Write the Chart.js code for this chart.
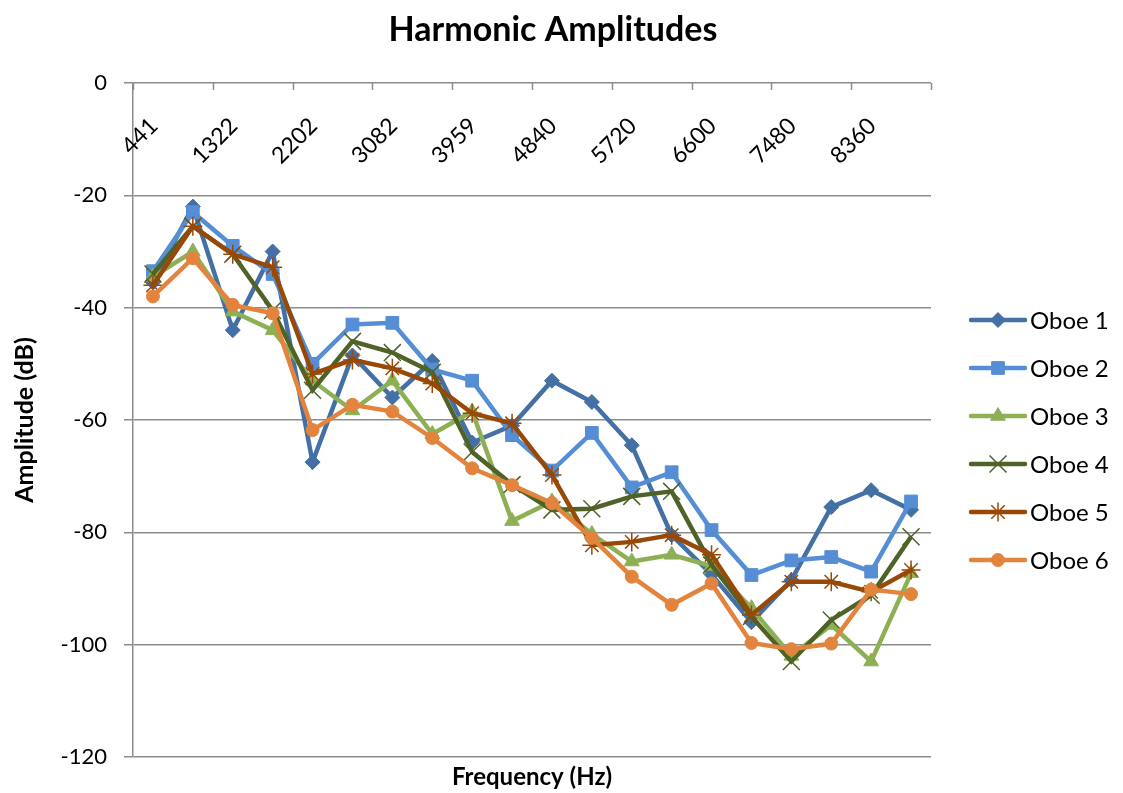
<!DOCTYPE html>
<html>
<head>
<meta charset="utf-8">
<script src="https://cdn.jsdelivr.net/npm/chart.js"></script>
<style>
  html, body { margin: 0; padding: 0; background: #fff; }
  #wrap { width: 1123px; height: 793px; }
</style>
</head>
<body>
<div id="wrap"><canvas id="myChart" width="1123" height="793"></canvas></div>
<script>
// frequencies (Hz), every other one is printed on the axis
var freqs = ["441", "881", "1322", "1762", "2202", "2642", "3082", "3522", "3959", "4400",
             "4840", "5280", "5720", "6160", "6600", "7040", "7480", "7920", "8360", "8800"];

var oboe1 = [-35.5, -22, -44, -30, -67.5, -48.5, -56, -49.5, -64, -61,
             -53, -56.8, -64.5, -80.5, -87.5, -96, -88.5, -75.5, -72.5, -76];
var oboe2 = [-33.5, -23, -29, -34, -50, -43, -42.7, -51, -53, -62.7,
             -69, -62.3, -72, -69.3, -79.6, -87.6, -85, -84.4, -87, -74.5];
var oboe3 = [-34.5, -30, -40.7, -44, -53, -58.3, -53, -62.5, -58.5, -78,
             -74.5, -80.3, -85.2, -84, -86, -93.5, -102, -96.5, -103, -87.3];
var oboe4 = [-34, -25.5, -30.5, -40.5, -54.7, -46, -48, -51.5, -65.7, -71.5,
             -76, -75.8, -73.6, -72.7, -85.8, -95, -103, -95.6, -91.2, -80.8];
var oboe5 = [-36, -25.5, -30.5, -32.8, -51.8, -49.3, -50.8, -53.5, -58.8, -60.6,
             -69.8, -82.3, -81.7, -80.5, -84, -94.7, -88.8, -88.8, -90.6, -86.7];
var oboe6 = [-38, -31.2, -39.5, -41, -61.8, -57.3, -58.5, -63.2, -68.6, -71.6,
             -74.8, -81, -87.9, -92.9, -89.1, -99.7, -100.8, -99.8, -90.2, -91];

var seriesNames = ["Oboe 1", "Oboe 2", "Oboe 3", "Oboe 4", "Oboe 5", "Oboe 6"];
var seriesData = [oboe1, oboe2, oboe3, oboe4, oboe5, oboe6];
var colors = ["#4470A6", "#558ED5", "#8DB055", "#4F6228", "#984807", "#E2843E"];
var markers = ["rectRot", "rect", "triangle", "crossRot", "star", "circle"];
var markerSize = [7.5, 9, 8.5, 12, 9.5, 6.5];
var markerLine = [1, 1, 1, 1.5, 1.5, 1];

var gridColor = "#8C8C8C";
var fontName = "Lato";

var dts = [];
for (var i = 0; i < seriesNames.length; i++) {
  dts.push({
    label: seriesNames[i],
    data: seriesData[i],
    borderColor: colors[i],
    backgroundColor: colors[i],
    borderWidth: 4.5,
    tension: 0,
    pointStyle: markers[i],
    pointRadius: markerSize[i],
    pointBorderWidth: markerLine[i],
    pointBackgroundColor: colors[i],
    pointBorderColor: colors[i],
    order: seriesNames.length - 1 - i
  });
}

// axis labels at the top, tick marks and the line legend
var extras = {
  id: "extras",
  afterDraw: function (chart) {
    var ctx = chart.ctx;
    var xs = chart.scales.x;
    var ys = chart.scales.y;
    var top = ys.getPixelForValue(0);
    var step = xs.getPixelForValue(1) - xs.getPixelForValue(0);
    ctx.save();

    // category tick marks, every second boundary
    ctx.strokeStyle = gridColor;
    ctx.lineWidth = 1.5;
    for (var b = 0; b <= freqs.length; b += 2) {
      var bx = Math.round(xs.getPixelForValue(0) - step / 2 + b * step) + 0.5;
      ctx.beginPath();
      ctx.moveTo(bx, top);
      ctx.lineTo(bx, top + 7);
      ctx.stroke();
    }

    // rotated frequency labels
    ctx.fillStyle = "#000";
    ctx.font = "23px " + fontName;
    ctx.textAlign = "right";
    ctx.textBaseline = "middle";
    for (var k = 0; k < freqs.length; k += 2) {
      ctx.save();
      ctx.translate(xs.getPixelForValue(k) + 1, top + 39);
      ctx.rotate(-Math.PI / 4);
      ctx.fillText(freqs[k], 0, 0);
      ctx.restore();
    }

    // legend
    var lx = 971, ly = 320, gap = 48;
    for (var s = 0; s < dts.length; s++) {
      var y = ly + s * gap;
      ctx.strokeStyle = colors[s];
      ctx.fillStyle = colors[s];
      ctx.lineWidth = 4.5;
      ctx.lineCap = "round";
      ctx.beginPath();
      ctx.moveTo(lx, y);
      ctx.lineTo(lx + 54, y);
      ctx.stroke();
      ctx.lineCap = "butt";
      ctx.lineWidth = markerLine[s];
      Chart.helpers.drawPoint(ctx, {
        pointStyle: markers[s],
        radius: markerSize[s],
        borderWidth: markerLine[s],
        rotation: 0
      }, lx + 27, y);
      ctx.fillStyle = "#000";
      ctx.font = "24px " + fontName;
      ctx.textAlign = "left";
      ctx.textBaseline = "middle";
      ctx.fillText(seriesNames[s], lx + 59, y + 1);
    }
    ctx.restore();
  }
};

var canvas = document.getElementById("myChart").getContext("2d");
var chart = new Chart(canvas, {
  type: "line",
  data: { labels: freqs, datasets: dts },
  plugins: [extras],
  options: {
    responsive: false,
    animation: false,
    layout: { padding: { left: 0, right: 17, top: 0, bottom: 0 } },
    plugins: {
      legend: { display: false },
      tooltip: { enabled: false },
      title: {
        display: true,
        text: "Harmonic Amplitudes",
        color: "#000",
        font: { family: fontName, size: 34, weight: "bold" },
        padding: { top: 10, bottom: 32.2 }
      }
    },
    scales: {
      x: {
        type: "category",
        offset: true,
        position: "bottom",
        grid: { display: false },
        border: { display: false },
        ticks: { display: false },
        title: {
          display: true,
          text: "Frequency (Hz)",
          color: "#000",
          font: { family: fontName, size: 24, weight: "bold" },
          padding: { top: 0, bottom: 1 }
        },
        afterFit: function (s) { s.height = 36; }
      },
      y: {
        min: -120,
        max: 0,
        position: "left",
        ticks: {
          stepSize: 20,
          color: "#000",
          padding: 17,
          font: { family: fontName, size: 22 }
        },
        grid: { color: gridColor, lineWidth: 1.5, tickLength: 9 },
        border: { color: gridColor, width: 1.5 },
        title: {
          display: true,
          text: "Amplitude (dB)",
          color: "#000",
          font: { family: fontName, size: 25, weight: "bold" },
          padding: { top: 10, bottom: 0 }
        },
        afterFit: function (s) { s.width = 133; }
      },
      yRight: {
        min: -120,
        max: 0,
        position: "right",
        grid: { display: false },
        border: { display: false },
        ticks: { display: false },
        afterFit: function (s) { s.width = 175; }
      }
    }
  }
});
</script>
</body>
</html>
